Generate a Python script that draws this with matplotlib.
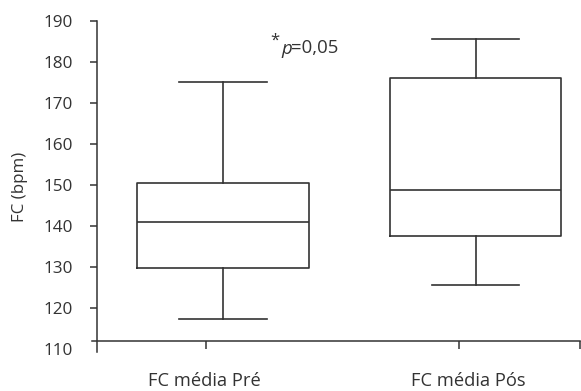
import matplotlib
matplotlib.use("Agg")
import matplotlib.pyplot as plt
import matplotlib.transforms as mtransforms

plt.rcParams['font.family'] = ['Open Sans', 'DejaVu Sans']

# ---- data ----
categories = ["FC média Pré", "FC média Pós"]
whislo = [117.4, 125.6]
q1 = [129.8, 137.6]
med = [140.9, 148.8]
q3 = [150.6, 176.1]
whishi = [175.2, 185.6]
yticks = [110, 120, 130, 140, 150, 160, 170, 180, 190]
ylabel = "FC (bpm)"
annot_star = "*"
annot_p = "p"
annot_val = "=0,05"

col = "#333333"

fig = plt.figure(figsize=(5.81, 3.91), dpi=100)
ax = fig.add_axes([97/581, (391-352)/391, 483/581, (352-20.7)/391])

xmin, xmax = 1 - 109/253, 2 + 121/253
pos = [1 + 17/253, 2 + 16.7/253]

stats = []
for i, c in enumerate(categories):
    stats.append(dict(label=c, whislo=whislo[i], q1=q1[i], med=med[i],
                      q3=q3[i], whishi=whishi[i], fliers=[]))

lp = dict(color=col, linewidth=1.2)
ax.bxp(stats, positions=pos, widths=0.677, showfliers=False,
       boxprops=lp, whiskerprops=lp, capprops=lp, medianprops=lp,
       capwidths=0.345, manage_ticks=False)

ax.set_xlim(xmin, xmax)
ax.set_ylim(109.3, 190.05)

for s in ['top', 'right']:
    ax.spines[s].set_visible(False)
ax.spines['left'].set_color(col)
ax.spines['bottom'].set_color(col)
ax.spines['left'].set_linewidth(1.1)
ax.spines['bottom'].set_linewidth(1.1)
ax.spines['bottom'].set_position(('data', 111.9))
ax.spines['bottom'].set_bounds(xmin - 5/253, xmax)
ax.spines['left'].set_bounds(109.3, 190)

ax.set_yticks(yticks)
ax.set_yticklabels([str(t) for t in yticks], fontsize=12.3, color=col)
ax.tick_params(axis='y', direction='out', length=5, width=1.1, color=col, pad=12.5)
ax.yaxis.get_major_ticks()[0].tick1line.set_visible(False)

ax.set_xticks([1, 2, xmax])
ax.set_xticklabels(["", "", ""])
ax.tick_params(axis='x', direction='out', length=5.8, width=1.1, color=col)

ax.set_ylabel(ylabel, fontsize=12.2, color=col, va='center')
ax.yaxis.set_label_coords((20 - 97) / 483, (352 - 187) / 331.3)

# category labels under axis
trans = mtransforms.blended_transform_factory(ax.transData, fig.transFigure)
label_x = [1 - 2/253, 2 + 9/253]
for x, c in zip(label_x, categories):
    fig.text(x, 1 - 381/391, c, transform=trans, ha='center', va='center',
             fontsize=13.2, color=col)

# annotation
def px2x(px):
    return xmin + (px - 97) / 253

def py2y(py):
    return 110 + (349.1 - py) / 4.104

ax.text(px2x(275.3), py2y(41), annot_star, ha='center', va='center', fontsize=12, color=col)
ax.text(px2x(281.5), py2y(48.5), annot_p, ha='left', va='center', fontsize=13.4,
        style='italic', color=col)
ax.text(px2x(291), py2y(47.5), annot_val, ha='left', va='center', fontsize=13.4, color=col)

fig.savefig("out.png", dpi=100)
